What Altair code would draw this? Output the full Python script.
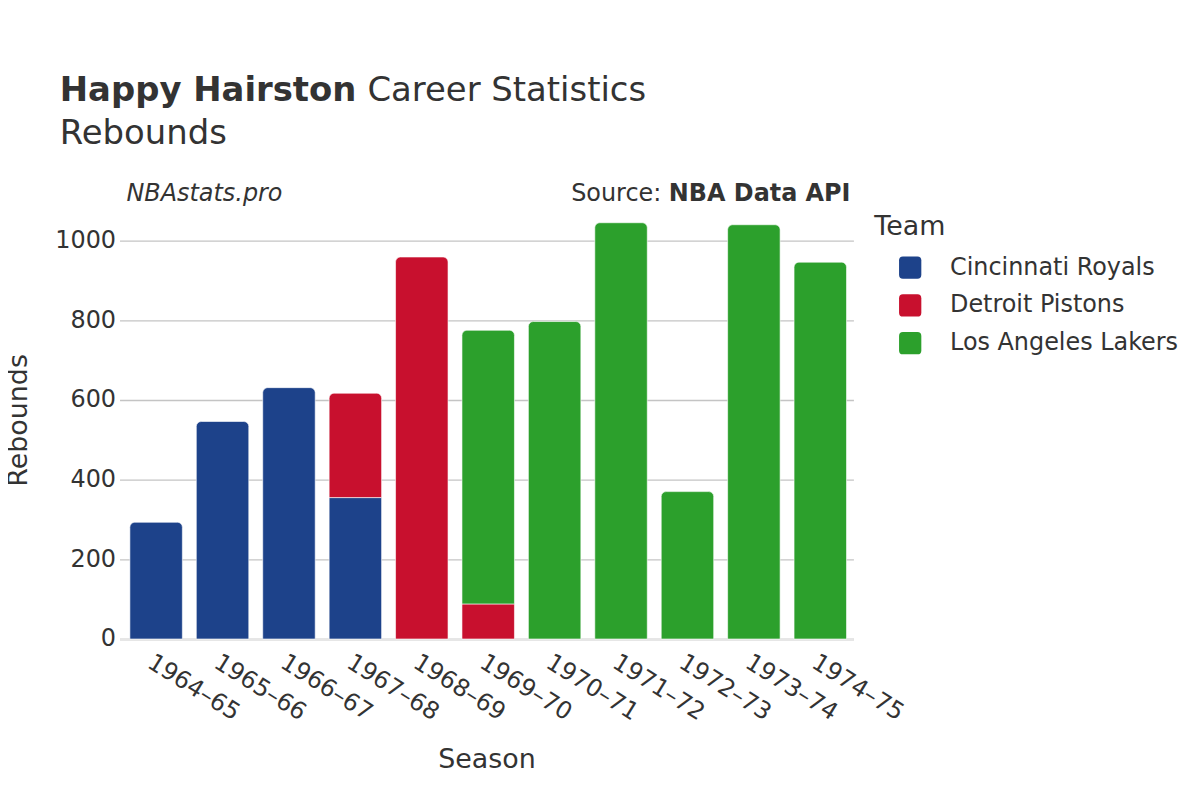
import altair as alt
import pandas as pd

seasons = ["1964–65", "1965–66", "1966–67", "1967–68", "1968–69", "1969–70",
           "1970–71", "1971–72", "1972–73", "1973–74", "1974–75"]
teams = ["Cincinnati Royals", "Detroit Pistons", "Los Angeles Lakers"]
team_colors = ["#1d428a", "#c8102e", "#2ca02c"]
cincinnati = [293, 546, 631, 355, 0, 0, 0, 0, 0, 0, 0]
detroit = [0, 0, 0, 262, 959, 88, 0, 0, 0, 0, 0]
lakers = [0, 0, 0, 0, 0, 687, 797, 1045, 370, 1040, 946]
y_ticks = [0, 200, 400, 600, 800, 1000]

rows = []
for i, s in enumerate(seasons):
    vals = [cincinnati[i], detroit[i], lakers[i]]
    last = max(k for k, v in enumerate(vals) if v > 0)
    for k, v in enumerate(vals):
        if v > 0:
            rows.append({"Season": s, "Team": teams[k], "Rebounds": v,
                         "order": k, "is_top": 1 if k == last else 0})
df = pd.DataFrame(rows)

FONT = "DejaVu Sans"
TXT = "#333333"
W, H = 737, 440

rounded_square = ("M -0.65,-1 L 0.65,-1 Q 1,-1 1,-0.65 L 1,0.65 Q 1,1 0.65,1 "
                  "L -0.65,1 Q -1,1 -1,0.65 L -1,-0.65 Q -1,-1 -0.65,-1 Z")

x_enc = alt.X("Season:N", sort=seasons, title="Season",
              scale=alt.Scale(paddingInner=0.21, paddingOuter=0.13, align=0.6),
              axis=alt.Axis(labelAngle=32, labelAlign="left", labelBaseline="top",
                            labelFontSize=24, labelColor=TXT, labelFont=FONT,
                            labelPadding=11, ticks=False, domain=True,
                            domainColor="#e6e6e6", domainWidth=3,
                            titleFontSize=27, titleFont=FONT, titleColor=TXT,
                            titleFontWeight="normal", titlePadding=22))
y_enc = alt.Y("y0:Q", title="Rebounds",
              scale=alt.Scale(domain=[0, 1100], nice=False),
              axis=alt.Axis(values=y_ticks, format="d", labelFontSize=24,
                            labelColor=TXT, labelFont=FONT, labelPadding=4,
                            ticks=False, domain=False, grid=True,
                            gridColor="#c4c4c4", gridWidth=1.4,
                            titleFontSize=27, titleFont=FONT, titleColor=TXT,
                            titleFontWeight="normal", titlePadding=22))
color_enc = alt.Color("Team:N", sort=teams,
                      scale=alt.Scale(domain=teams, range=team_colors),
                      legend=alt.Legend(title="Team", orient="none",
                                        legendX=758, legendY=13,
                                        titleFontSize=27, titleFont=FONT,
                                        titleColor=TXT, titleFontWeight="normal",
                                        titlePadding=15, labelLimit=0,
                                        labelFontSize=24, labelFont=FONT,
                                        labelColor=TXT, labelOffset=28,
                                        symbolType=rounded_square, symbolSize=500,
                                        symbolStrokeWidth=0, rowPadding=14,
                                        symbolOffset=24))

base = alt.Chart(df).transform_stack(
    stack="Rebounds", groupby=["Season"], as_=["y0", "y1"],
    sort=[alt.SortField("order", order="ascending")],
)

lower = base.transform_filter("datum.is_top == 0").mark_bar(
    stroke="white", strokeWidth=1, strokeOpacity=0.6,
).encode(x=x_enc, y=y_enc, y2="y1:Q", color=color_enc)

upper = base.transform_filter("datum.is_top == 1").mark_bar(
    cornerRadiusTopLeft=5, cornerRadiusTopRight=5,
    stroke="white", strokeWidth=1, strokeOpacity=0.6,
).encode(x=x_enc, y=y_enc, y2="y1:Q", color=color_enc)


def label(text, x, y, size, weight="normal", style="normal", align="left"):
    return alt.Chart(pd.DataFrame({"t": [text]})).mark_text(
        font=FONT, fontSize=size, fontWeight=weight, fontStyle=style,
        color=TXT, align=align, baseline="alphabetic",
    ).encode(text="t:N", x=alt.value(x), y=alt.value(y))

texts = [
    label("Happy Hairston", -60, -100, 34, weight="bold"),
    label("Career Statistics", 249, -100, 34),
    label("Rebounds", -60, -57, 34),
    label("NBAstats.pro", 7, 0, 24, style="italic"),
    label("NBA Data API", 734, 0, 24, weight="bold", align="right"),
    label("Source:", 544, 0, 24, align="right"),
]

chart = alt.layer(lower, upper, *texts).properties(
    width=W, height=H, background="white",
    autosize=alt.AutoSizeParams(type="none"),
    padding={"left": 112, "top": 192, "right": 340, "bottom": 152},
).configure_view(stroke="transparent", strokeWidth=0)

chart.save("out.html", embed_options={"renderer": "svg", "actions": False})
